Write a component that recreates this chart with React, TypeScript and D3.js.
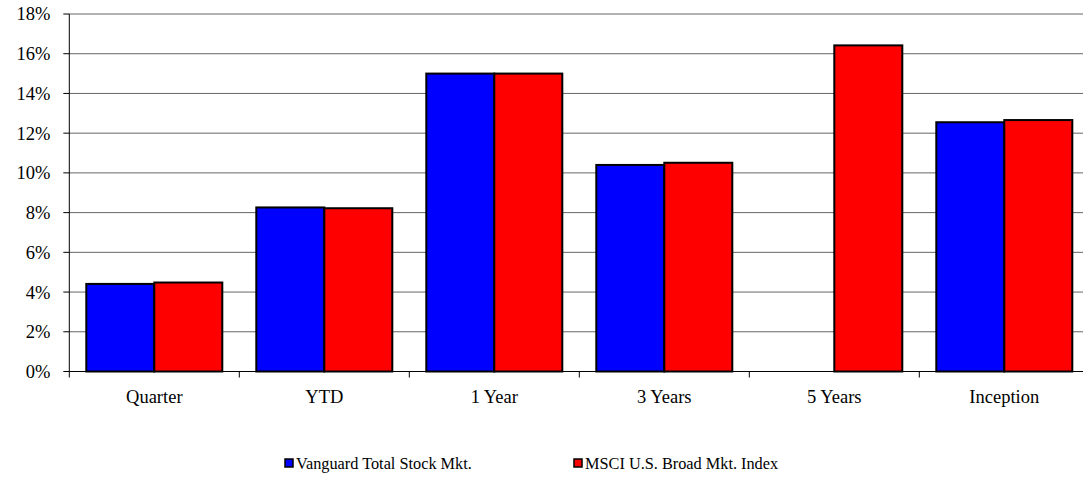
import React from "react";
import * as d3 from "d3";

const categories = ["Quarter", "YTD", "1 Year", "3 Years", "5 Years", "Inception"];
const seriesNames = ["Vanguard Total Stock Mkt.", "MSCI U.S. Broad Mkt. Index"];
const vanguard: (number | null)[] = [4.41, 8.26, 15.0, 10.4, null, 12.55];
const msci: (number | null)[] = [4.48, 8.22, 15.0, 10.51, 16.42, 12.66];
const yTicks = [0, 2, 4, 6, 8, 10, 12, 14, 16, 18];
const colors = ["#0000FF", "#FF0000"];

export default function App() {
  const W = 1083, H = 479;
  const left = 69.3, right = 1089.3, top = 14, bottom = 371.5;
  const x0 = d3.scaleBand<string>().domain(categories).range([left, right]);
  const y = d3.scaleLinear().domain([0, 18]).range([bottom, top]);
  const inner = d3.scaleBand<number>().domain([0, 1]).range([0, 136]);
  const series = [vanguard, msci];
  const font = "Liberation Serif, Times New Roman, serif";
  return (
    <svg width={W} height={H} style={{ position: "absolute", left: 0, top: 0, background: "#fff", fontFamily: font }}>
      {yTicks.map((t) => (
        <g key={t}>
          {t > 0 && <line x1={left} x2={right} y1={y(t)} y2={y(t)} stroke="#666" strokeWidth={1} />}
          <line x1={left - 6} x2={left} y1={y(t)} y2={y(t)} stroke="#000" strokeWidth={1} />
          <text x={left - 19} y={y(t)} dy="0.35em" textAnchor="end" fontSize={18.5} fill="#000" style={{ fontFamily: font }}>{t}%</text>
        </g>
      ))}
      {categories.map((c, i) => {
        const bx = (x0(c) as number) + 17;
        return (
          <g key={c}>
            {series.map((s, k) => {
              const v = s[i];
              if (v == null) return null;
              return (
                <rect key={k} x={bx + (inner(k) as number)} y={y(v)} width={inner.bandwidth()} height={y(0) - y(v)}
                  fill={colors[k]} stroke="#000" strokeWidth={2} />
              );
            })}
            <line x1={x0(c) as number} x2={x0(c) as number} y1={bottom} y2={bottom + 6} stroke="#000" />
            <text x={(x0(c) as number) + x0.bandwidth() / 2} y={402.5} textAnchor="middle" fontSize={18.5} fill="#000" style={{ fontFamily: font }}>{c}</text>
          </g>
        );
      })}
      <line x1={left} x2={left} y1={top} y2={bottom} stroke="#000" strokeWidth={1} />
      <line x1={left} x2={right} y1={bottom} y2={bottom} stroke="#000" strokeWidth={1} />
      {seriesNames.map((n, k) => {
        const lx = k === 0 ? 285 : 574;
        return (
          <g key={n}>
            <rect x={lx} y={459} width={8} height={8} fill={colors[k]} stroke="#000" strokeWidth={1.5} />
            <text x={lx + 11} y={469} fontSize={16.3} fill="#000" style={{ fontFamily: font }}>{n}</text>
          </g>
        );
      })}
    </svg>
  );
}
